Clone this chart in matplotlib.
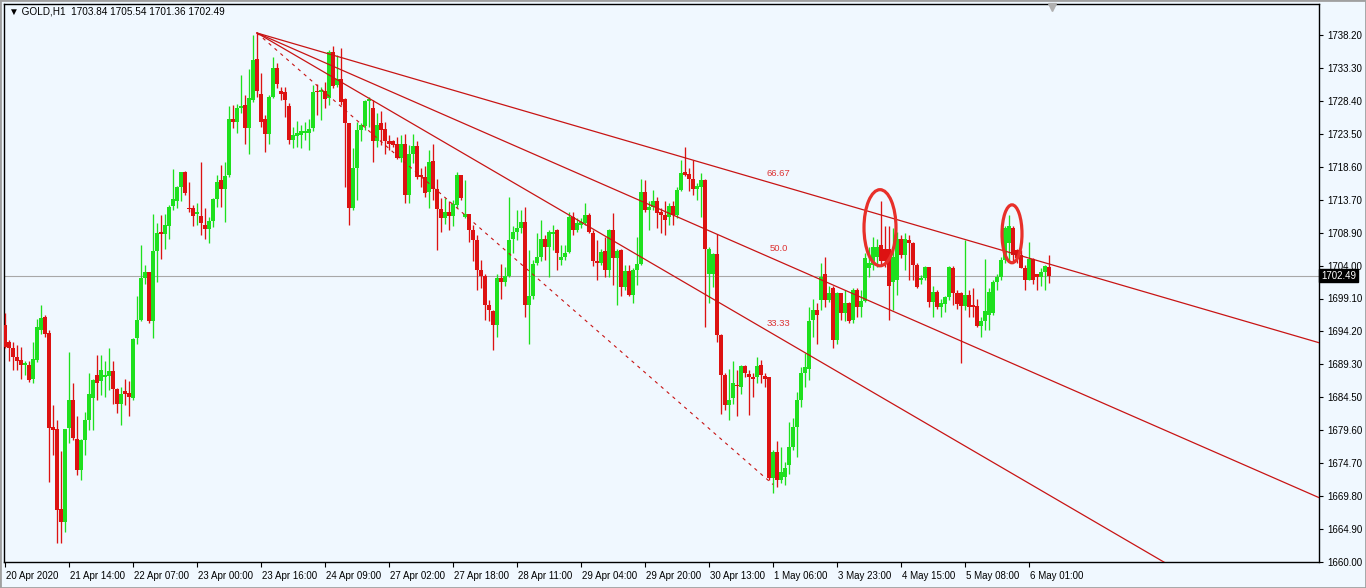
import matplotlib
matplotlib.use('Agg')
import matplotlib.pyplot as plt
import numpy as np
from matplotlib.patches import Ellipse, Rectangle
import matplotlib.transforms as mtransforms

# ---------------- data (GOLD H1) ----------------
opens = [1695.2, 1692.6, 1691.8, 1690.4, 1689.9, 1689.2, 1689.3, 1687.2, 1690.0, 1694.4,
         1696.3, 1694.0, 1680.1, 1679.7, 1667.9, 1666.0, 1679.9, 1684.0, 1678.3, 1673.6,
         1678.1, 1681.1, 1684.3, 1687.7, 1686.8, 1687.5, 1687.6, 1688.3, 1685.6, 1683.5,
         1685.4, 1685.1, 1684.4, 1693.2, 1695.9, 1702.2, 1703.0, 1695.8, 1706.1, 1709.0,
         1708.6, 1709.8, 1712.8, 1713.6, 1715.6, 1717.8, 1712.6, 1712.5, 1711.6, 1711.4,
         1710.0, 1709.4, 1710.6, 1713.9, 1716.7, 1715.4, 1717.4, 1725.7, 1725.3, 1727.3,
         1727.8, 1724.4, 1728.6, 1734.6, 1729.5, 1725.8, 1723.5, 1729.0, 1733.3, 1729.9,
         1729.7, 1727.7, 1722.6, 1723.2, 1723.4, 1723.7, 1723.7, 1724.4, 1729.9, 1729.8,
         1729.9, 1728.8, 1735.7, 1730.8, 1731.6, 1728.7, 1725.1, 1712.6, 1718.5, 1724.1,
         1724.7, 1728.4, 1727.3, 1722.4, 1725.1, 1724.2, 1722.5, 1722.4, 1722.0, 1720.0,
         1722.0, 1714.5, 1720.5, 1721.7, 1717.4, 1717.2, 1714.9, 1719.5, 1715.3, 1712.4,
         1711.1, 1712.0, 1711.4, 1713.0, 1717.4, 1711.2, 1711.6, 1709.3, 1707.8, 1703.3,
         1702.5, 1698.1, 1697.2, 1695.2, 1702.2, 1701.6, 1702.5, 1707.9, 1709.0, 1709.6,
         1710.5, 1698.1, 1699.4, 1704.3, 1705.3, 1707.9, 1706.8, 1708.6, 1709.3, 1704.8,
         1705.2, 1706.0, 1711.2, 1709.2, 1710.0, 1710.3, 1711.5, 1708.8, 1704.6, 1704.3,
         1706.1, 1703.3, 1709.2, 1705.1, 1706.3, 1700.8, 1703.2, 1699.6, 1703.3, 1704.2,
         1714.9, 1712.2, 1712.7, 1713.5, 1712.0, 1711.5, 1711.2, 1712.8, 1711.5, 1715.2,
         1717.8, 1717.6, 1716.8, 1715.4, 1715.6, 1716.7, 1702.7, 1702.8, 1705.7, 1693.7,
         1687.7, 1683.3, 1684.3, 1686.3, 1686.0, 1689.1, 1687.9, 1687.5, 1687.4, 1689.2,
         1687.6, 1687.4, 1672.5, 1676.3, 1672.2, 1672.6, 1674.4, 1677.1, 1680.0, 1684.0,
         1688.0, 1688.6, 1695.9, 1697.4, 1698.9, 1702.8, 1698.9, 1700.6, 1692.9, 1699.9,
         1696.9, 1698.5, 1695.9, 1700.4, 1697.9, 1698.8, 1703.7, 1704.1, 1705.3, 1707.0,
         1706.5, 1706.5, 1701.6, 1701.8, 1707.9, 1705.5, 1707.8, 1707.3, 1704.1, 1701.8,
         1702.1, 1703.7, 1698.6, 1700.0, 1697.9, 1698.3, 1699.3, 1703.7, 1699.9, 1699.9,
         1698.0, 1699.6, 1698.1, 1698.0, 1695.0, 1695.8, 1696.6, 1696.9, 1701.6, 1702.3,
         1704.8, 1707.3, 1709.5, 1706.3, 1705.5, 1703.7, 1701.9, 1704.9, 1702.7, 1702.3,
         1703.1, 1703.84]
highs = [1696.9, 1692.9, 1692.7, 1692.2, 1691.9, 1689.9, 1689.9, 1692.7, 1696.1, 1698.2,
         1696.6, 1694.4, 1683.3, 1681.1, 1676.4, 1679.8, 1691.2, 1686.5, 1681.7, 1678.3,
         1682.3, 1688.0, 1687.2, 1690.7, 1690.7, 1689.9, 1691.7, 1689.9, 1685.8, 1686.0,
         1687.1, 1686.8, 1693.2, 1699.4, 1707.1, 1704.1, 1703.1, 1711.7, 1710.3, 1711.5,
         1711.7, 1713.0, 1718.3, 1715.8, 1717.9, 1718.0, 1716.4, 1713.0, 1713.2, 1719.3,
         1712.5, 1711.2, 1714.0, 1717.4, 1718.9, 1719.3, 1727.7, 1727.8, 1728.0, 1732.3,
         1729.3, 1733.2, 1738.2, 1738.5, 1732.5, 1726.3, 1729.3, 1735.0, 1734.0, 1730.5,
         1730.5, 1728.1, 1724.6, 1725.4, 1724.8, 1725.3, 1725.8, 1730.8, 1731.0, 1730.5,
         1731.3, 1736.0, 1736.6, 1735.2, 1736.2, 1728.8, 1725.1, 1721.4, 1725.3, 1725.2,
         1728.6, 1729.0, 1728.6, 1726.6, 1726.9, 1725.3, 1723.4, 1722.6, 1723.1, 1723.4,
         1723.5, 1721.9, 1723.5, 1722.5, 1718.5, 1718.7, 1721.1, 1722.0, 1716.8, 1714.0,
         1714.0, 1713.5, 1713.7, 1717.8, 1717.5, 1716.7, 1711.7, 1710.0, 1708.5, 1704.8,
         1702.8, 1698.9, 1697.4, 1702.8, 1704.2, 1703.8, 1714.2, 1709.8, 1712.2, 1712.3,
         1712.7, 1706.3, 1704.8, 1708.8, 1710.7, 1708.5, 1709.3, 1710.0, 1709.4, 1707.0,
         1707.0, 1712.0, 1712.0, 1711.0, 1711.0, 1713.2, 1711.8, 1709.3, 1707.8, 1706.5,
         1708.3, 1709.4, 1711.8, 1706.5, 1706.5, 1704.1, 1704.1, 1703.6, 1708.3, 1716.9,
         1716.7, 1713.5, 1715.2, 1714.1, 1712.5, 1713.5, 1713.2, 1713.5, 1715.7, 1719.7,
         1721.6, 1718.4, 1719.7, 1716.2, 1717.7, 1716.8, 1706.8, 1705.9, 1708.6, 1693.9,
         1688.0, 1688.6, 1689.9, 1688.5, 1689.2, 1689.2, 1688.5, 1688.0, 1690.4, 1690.0,
         1688.0, 1687.5, 1676.6, 1677.9, 1677.1, 1674.9, 1680.8, 1681.3, 1685.3, 1689.0,
         1691.0, 1697.9, 1699.1, 1698.4, 1704.3, 1705.2, 1700.9, 1700.9, 1700.1, 1699.9,
         1700.4, 1698.6, 1700.6, 1700.6, 1700.4, 1705.8, 1706.8, 1708.3, 1708.0, 1713.5,
         1709.8, 1709.8, 1709.5, 1709.0, 1708.5, 1708.8, 1708.5, 1707.5, 1704.3, 1702.6,
         1703.9, 1703.8, 1700.9, 1700.4, 1699.1, 1699.5, 1703.9, 1703.9, 1700.4, 1700.1,
         1707.8, 1700.4, 1700.6, 1699.1, 1696.4, 1704.9, 1700.6, 1701.8, 1702.8, 1705.3,
         1709.8, 1711.5, 1709.8, 1706.5, 1706.3, 1704.1, 1707.5, 1705.1, 1702.8, 1703.6,
         1704.1, 1705.54]
lows = [1691.7, 1689.9, 1688.5, 1688.5, 1687.2, 1687.7, 1686.7, 1686.5, 1689.7, 1693.9,
        1693.4, 1671.9, 1675.9, 1662.8, 1662.8, 1664.5, 1677.6, 1678.1, 1672.9, 1672.2,
        1675.9, 1679.6, 1679.6, 1684.0, 1684.8, 1684.5, 1685.5, 1683.4, 1682.1, 1680.3,
        1683.3, 1681.6, 1684.0, 1692.4, 1695.7, 1701.3, 1695.4, 1693.3, 1701.6, 1705.0,
        1706.5, 1708.0, 1712.2, 1712.5, 1713.5, 1714.5, 1712.0, 1709.9, 1710.0, 1708.5,
        1708.0, 1707.4, 1709.7, 1712.7, 1712.7, 1710.5, 1717.2, 1724.4, 1723.6, 1726.6,
        1722.1, 1720.6, 1728.3, 1729.0, 1724.6, 1720.9, 1722.1, 1728.8, 1730.3, 1728.6,
        1726.1, 1722.1, 1721.4, 1721.6, 1721.4, 1722.6, 1721.1, 1723.9, 1726.3, 1725.6,
        1727.3, 1727.8, 1730.3, 1730.5, 1727.8, 1715.7, 1710.0, 1712.2, 1713.7, 1722.4,
        1724.1, 1724.6, 1719.4, 1721.6, 1721.9, 1720.6, 1721.1, 1721.6, 1719.8, 1719.4,
        1713.2, 1713.2, 1719.2, 1716.9, 1715.7, 1714.2, 1712.5, 1713.7, 1706.3, 1709.0,
        1710.2, 1709.3, 1709.8, 1712.5, 1713.7, 1711.0, 1707.5, 1704.6, 1700.4, 1700.6,
        1695.9, 1695.7, 1691.5, 1693.4, 1699.1, 1700.9, 1702.3, 1705.8, 1707.8, 1708.8,
        1696.4, 1692.4, 1699.1, 1704.1, 1704.6, 1704.8, 1702.3, 1706.3, 1703.3, 1704.1,
        1704.8, 1705.8, 1708.5, 1708.9, 1709.5, 1710.0, 1708.8, 1703.9, 1701.8, 1704.1,
        1702.3, 1702.3, 1701.1, 1698.1, 1699.4, 1700.4, 1699.4, 1698.4, 1701.1, 1704.1,
        1712.0, 1709.3, 1712.2, 1709.5, 1708.8, 1708.5, 1710.0, 1710.0, 1711.0, 1715.0,
        1717.3, 1715.0, 1714.5, 1713.7, 1711.2, 1694.9, 1698.4, 1700.8, 1692.7, 1682.0,
        1682.5, 1681.1, 1683.5, 1681.6, 1685.0, 1687.5, 1681.8, 1684.5, 1686.5, 1686.5,
        1686.0, 1672.1, 1670.3, 1671.2, 1671.7, 1671.4, 1673.1, 1676.6, 1675.6, 1683.0,
        1686.0, 1687.0, 1693.4, 1692.4, 1697.4, 1697.9, 1698.6, 1691.7, 1692.4, 1695.9,
        1695.7, 1695.4, 1695.5, 1696.4, 1696.4, 1698.6, 1702.3, 1703.3, 1703.8, 1704.1,
        1703.8, 1695.9, 1697.4, 1699.6, 1705.1, 1703.3, 1701.9, 1701.9, 1700.6, 1701.3,
        1701.8, 1697.9, 1696.4, 1697.6, 1696.4, 1697.1, 1698.9, 1698.1, 1697.6, 1689.5,
        1697.4, 1696.4, 1696.4, 1694.9, 1693.4, 1694.4, 1694.4, 1696.6, 1700.4, 1701.8,
        1704.3, 1704.8, 1704.3, 1704.3, 1703.6, 1700.4, 1701.8, 1701.3, 1700.4, 1700.9,
        1700.4, 1701.36]
closes = [1691.9, 1691.8, 1690.4, 1689.8, 1689.2, 1689.5, 1687.0, 1690.1, 1694.8, 1696.2,
          1693.8, 1679.9, 1679.6, 1667.7, 1666.0, 1679.7, 1684.0, 1678.4, 1673.6, 1678.1,
          1681.1, 1685.0, 1687.0, 1686.6, 1688.5, 1687.8, 1688.3, 1685.6, 1683.5, 1685.0,
          1685.0, 1684.5, 1693.1, 1695.9, 1702.2, 1703.1, 1695.7, 1706.1, 1708.8, 1708.7,
          1710.0, 1712.7, 1713.8, 1715.6, 1717.8, 1714.7, 1712.4, 1711.3, 1712.0, 1710.3,
          1709.4, 1710.6, 1713.9, 1716.4, 1715.4, 1717.3, 1725.7, 1725.3, 1727.3, 1727.7,
          1724.4, 1728.8, 1734.5, 1729.9, 1725.3, 1723.5, 1729.0, 1733.3, 1730.9, 1729.5,
          1728.5, 1722.6, 1723.4, 1723.6, 1723.9, 1723.9, 1724.2, 1729.8, 1729.7, 1730.0,
          1728.7, 1735.7, 1730.7, 1731.6, 1728.2, 1725.1, 1712.6, 1718.5, 1724.1, 1724.8,
          1728.4, 1728.7, 1722.4, 1724.8, 1724.1, 1722.5, 1722.1, 1721.9, 1719.9, 1722.0,
          1714.5, 1720.5, 1721.7, 1717.2, 1717.2, 1714.7, 1719.3, 1715.3, 1712.4, 1711.1,
          1712.0, 1711.4, 1713.1, 1717.4, 1714.0, 1711.6, 1709.3, 1707.8, 1703.3, 1702.5,
          1698.1, 1697.4, 1695.1, 1702.2, 1701.6, 1702.5, 1707.8, 1709.0, 1709.6, 1710.5,
          1698.1, 1699.4, 1704.2, 1705.3, 1707.9, 1706.8, 1709.0, 1708.9, 1705.8, 1705.3,
          1705.9, 1711.2, 1709.2, 1710.3, 1710.5, 1711.5, 1708.9, 1704.6, 1704.3, 1706.0,
          1703.3, 1709.2, 1705.1, 1706.1, 1700.8, 1703.2, 1699.6, 1703.3, 1704.2, 1714.9,
          1712.2, 1712.7, 1713.5, 1711.8, 1711.5, 1710.8, 1712.8, 1711.5, 1715.2, 1717.7,
          1717.4, 1716.8, 1715.4, 1715.8, 1716.7, 1706.5, 1706.5, 1705.7, 1693.7, 1687.7,
          1683.3, 1684.1, 1686.5, 1686.1, 1689.1, 1688.0, 1687.5, 1687.2, 1689.1, 1687.7,
          1687.2, 1672.5, 1676.3, 1672.1, 1673.4, 1673.9, 1677.1, 1680.0, 1684.0, 1688.0,
          1689.0, 1695.8, 1697.4, 1696.6, 1702.3, 1698.9, 1699.9, 1692.9, 1699.9, 1696.9,
          1698.5, 1695.7, 1700.4, 1697.9, 1698.8, 1705.1, 1704.3, 1706.8, 1706.8, 1704.6,
          1704.6, 1701.0, 1705.2, 1708.0, 1705.5, 1707.9, 1707.3, 1704.1, 1700.8, 1702.2,
          1703.7, 1698.6, 1700.0, 1697.9, 1698.4, 1699.3, 1703.7, 1699.9, 1698.3, 1698.0,
          1699.6, 1697.9, 1697.8, 1695.0, 1695.8, 1697.3, 1700.1, 1701.6, 1702.3, 1704.8,
          1709.5, 1709.8, 1705.5, 1705.1, 1703.7, 1701.8, 1704.9, 1701.8, 1702.3, 1703.1,
          1703.9, 1702.49]

time_labels = ["20 Apr 2020", "21 Apr 14:00", "22 Apr 07:00", "23 Apr 00:00", "23 Apr 16:00",
               "24 Apr 09:00", "27 Apr 02:00", "27 Apr 18:00", "28 Apr 11:00", "29 Apr 04:00",
               "29 Apr 20:00", "30 Apr 13:00", "1 May 06:00", "3 May 23:00", "4 May 15:00",
               "5 May 08:00", "6 May 01:00"]
price_labels = ["1660.00", "1664.90", "1669.80", "1674.70", "1679.60", "1684.50", "1689.30",
                "1694.20", "1699.10", "1704.00", "1708.90", "1713.70", "1718.60", "1723.50",
                "1728.40", "1733.30", "1738.20"]
fan_levels = [33.33, 50.0, 66.67]
fan_labels = ["33.33", "50.0", "66.67"]
header = "\u25BC GOLD,H1  1703.84 1705.54 1701.36 1702.49"
last_price = 1702.49
last_price_label = "1702.49"

# Fibonacci fan anchor points (bar index, price)
fan_t1, fan_p1 = 63, 1738.5
fan_t2, fan_p2 = 192, 1671.5

# ---------------- style ----------------
BG = '#F0F8FF'
UP = '#1EE01E'
DOWN = '#DD1212'
FAN = '#C81414'
FONT = ['Liberation Sans', 'DejaVu Sans']
plt.rcParams['font.family'] = FONT

W, H = 1366, 588
fig = plt.figure(figsize=(W / 100, H / 100), dpi=100, facecolor=BG)
ax = fig.add_axes([4 / W, 1 - 562 / H, 1315 / W, 558 / H], facecolor=BG)

o = np.array(opens); h = np.array(highs); l = np.array(lows); c = np.array(closes)
x = np.arange(len(o))
cols = np.where(c >= o, UP, DOWN)
hi = np.maximum(h, np.maximum(o, c))
lo = np.minimum(l, np.minimum(o, c))
ax.vlines(x, lo, hi, colors=cols, linewidth=0.95, zorder=3)
ax.bar(x, np.maximum(np.abs(c - o), 0.18), bottom=np.minimum(o, c), width=0.8,
       color=cols, linewidth=0, zorder=4)

ax.set_xlim(-0.25, 328.5)
ax.set_ylim(1660.0, 1742.8)

# current price line
ax.axhline(last_price, color='#A8A8A8', linewidth=0.8, zorder=1)

# Fibonacci fan
x_end = 340
ax.plot([fan_t1, fan_t2], [fan_p1, fan_p2], color=FAN, linewidth=0.8,
        linestyle=(0, (3, 4)), zorder=5)
for lev, lab in zip(fan_levels, fan_labels):
    p_at_t2 = fan_p2 + lev / 100.0 * (fan_p1 - fan_p2)
    slope = (p_at_t2 - fan_p1) / (fan_t2 - fan_t1)
    ax.plot([fan_t1, x_end], [fan_p1, fan_p1 + slope * (x_end - fan_t1)],
            color=FAN, linewidth=0.9, zorder=5)
    ax.annotate(lab, xy=(fan_t2, p_at_t2), xytext=(4, 4), textcoords='offset points',
                ha='center', va='bottom', fontsize=6.8, color='#DD3333', zorder=6)

# highlighted ellipses
ax.add_patch(Ellipse((218.75, 1709.6), width=8.0, height=11.3, fill=False,
                     edgecolor='#E8302A', linewidth=2.3, zorder=7))
ax.add_patch(Ellipse((251.75, 1708.7), width=5.0, height=8.6, fill=False,
                     edgecolor='#E8302A', linewidth=2.3, zorder=7))

# axes styling
for s in ax.spines.values():
    s.set_color('black')
    s.set_linewidth(1.0)
ax.yaxis.tick_right()
ytick_pos = np.linspace(1660.0, 1738.2, len(price_labels))
ax.set_yticks(ytick_pos)
ax.set_yticklabels(price_labels)
ax.tick_params(axis='y', direction='out', length=3, width=0.8, pad=3,
               labelsize=7.0, colors='black')
ax.set_xticks(np.arange(len(time_labels)) * 16)
ax.set_xticklabels(time_labels, ha='left')
ax.tick_params(axis='x', direction='out', length=3.5, width=0.8, pad=3,
               labelsize=7.0, colors='black')
for t in ax.get_xticklabels():
    t.set_transform(t.get_transform() + mtransforms.ScaledTranslation(1 / 100, 0, fig.dpi_scale_trans))

# last price box on the axis
trans = mtransforms.blended_transform_factory(ax.transAxes, ax.transData)
ax.text(1.0015, last_price, last_price_label, transform=trans, ha='left', va='center',
        color='white', fontsize=7, clip_on=False, zorder=10,
        bbox=dict(boxstyle='square,pad=0.18', facecolor='black', edgecolor='black'))

# header
fig.text(9 / W, 1 - 12 / H, header, ha='left', va='center', fontsize=7.2, color='black')

# chart shift marker
trans2 = mtransforms.blended_transform_factory(ax.transData, ax.transAxes)
ax.plot([261.75], [1 - 3.5 / 558], marker='v', markersize=6, color='#B0B0B0',
        transform=trans2, clip_on=False, zorder=8)

# outer frame
fig.patches.append(Rectangle((0, 0), 1, 1, transform=fig.transFigure, fill=False,
                             edgecolor='#A0A0A0', linewidth=2))

fig.savefig('out.png', dpi=100, facecolor=BG)
